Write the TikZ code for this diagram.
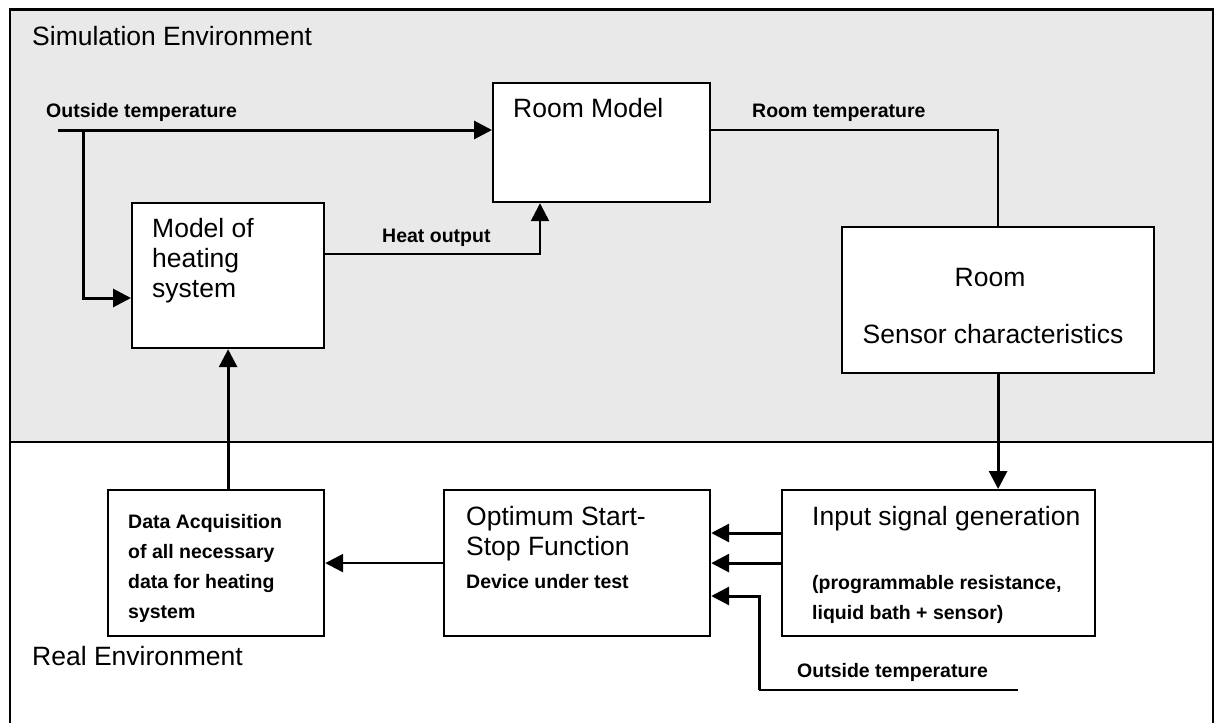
\documentclass[tikz,border=0pt]{standalone}
\usepackage{fontspec}
\setmainfont{Liberation Sans}
\usetikzlibrary{arrows.meta}
\definecolor{simgray}{HTML}{E9E9E9}

\begin{document}
\begin{tikzpicture}[x=1pt,y=-1pt,
  box/.style={draw, line width=2.2pt, fill=white, inner sep=0pt, anchor=north west},
  big/.style={font=\fontsize{26.5}{30}\selectfont, inner sep=0pt, anchor=base west},
  small/.style={font=\fontsize{19.5}{30}\selectfont\bfseries, inner sep=0pt, anchor=base west},
  flow/.style={line width=3pt, -{Triangle[length=18pt,width=18pt]}},
  thinflow/.style={line width=2.4pt, -{Triangle[length=18pt,width=18pt]}},
  wire/.style={line width=1.8pt},
]
\useasboundingbox (0,0) rectangle (1215,723);

% environments: grey simulation part above, white real part below
\fill[simgray] (10,9.5) rectangle (1213,442);
\draw[line width=2.2pt] (10,723) -- (10,9.5) -- (1213,9.5) -- (1213,723);
\draw[line width=2.2pt] (10,442) -- (1213,442);
\node[big] (simlabel) at (32,45) {Simulation Environment};
\node[big] (reallabel) at (32,665) {Real Environment};

% blocks
\node[box, minimum width=217pt, minimum height=119pt] (room) at (492,82) {};
\node[box, minimum width=192pt, minimum height=145pt] (model) at (131,202) {};
\node[box, minimum width=312pt, minimum height=146pt] (sensor) at (841,226) {};
\node[box, minimum width=216pt, minimum height=146pt] (daq) at (107,489) {};
\node[box, minimum width=266pt, minimum height=146pt] (opt) at (443,489) {};
\node[box, minimum width=313pt, minimum height=146pt] (input) at (781,489) {};

% block texts
\node[big] (roomtxt) at (513,117) {Room Model};
\node[big] (model1) at (152,237) {Model of};
\node[big] (model2) at (152,267) {heating};
\node[big] (model3) at (152,297) {system};
\node[big, anchor=base] (sens1) at (990,286) {Room};
\node[big, anchor=base] (sens2) at (993,343) {Sensor characteristics};
\node[small] (daq1) at (128,528) {Data Acquisition};
\node[small] (daq2) at (128,558) {of all necessary};
\node[small] (daq3) at (128,588) {data for heating};
\node[small] (daq4) at (128,618) {system};
\node[big] (opt1) at (466,525) {Optimum Start-};
\node[big] (opt2) at (466,555) {Stop Function};
\node[small] (opt3) at (466,588) {Device under test};
\node[big] (in1) at (812,525) {Input signal generation};
\node[small] (in2) at (812,589) {(programmable resistance,};
\node[small] (in3) at (812,619) {liquid bath + sensor)};

% signal labels
\node[small] (otlabel) at (46,117) {Outside temperature};
\node[small] (heatlabel) at (382,242) {Heat output};
\node[small] (rtlabel) at (752,117) {Room temperature};
\node[small] (ot2label) at (797,677) {Outside temperature};

% connectors
\coordinate (otin) at (58,130);
\coordinate (otbranch) at (83,130);
\coordinate (ot2in) at (1018,690);
\coordinate (ot2turn) at (759,690);

\draw[flow] (otin) -- (otin -| room.west);
\draw[flow] (otbranch) |- (model.west |- 0,298);
\draw[thinflow] (model.east |- 0,254) -| (room.south -| 540,0);
\draw[wire, line width=2.2pt] (room.east |- 0,130) -| (sensor.north);
\draw[flow] (sensor.south) -- (sensor.south |- input.north);
\draw[flow] (model.south |- daq.north) -- (model.south);
\draw[thinflow] (opt.west) -- (daq.east);
\draw[flow] (input.west |- 0,533) -- (opt.east |- 0,533);
\draw[flow] (input.west) -- (opt.east);
\draw[wire] (ot2in) -- (ot2turn);
\draw[flow] (ot2turn) |- (opt.east |- 0,596);
\end{tikzpicture}
\end{document}
